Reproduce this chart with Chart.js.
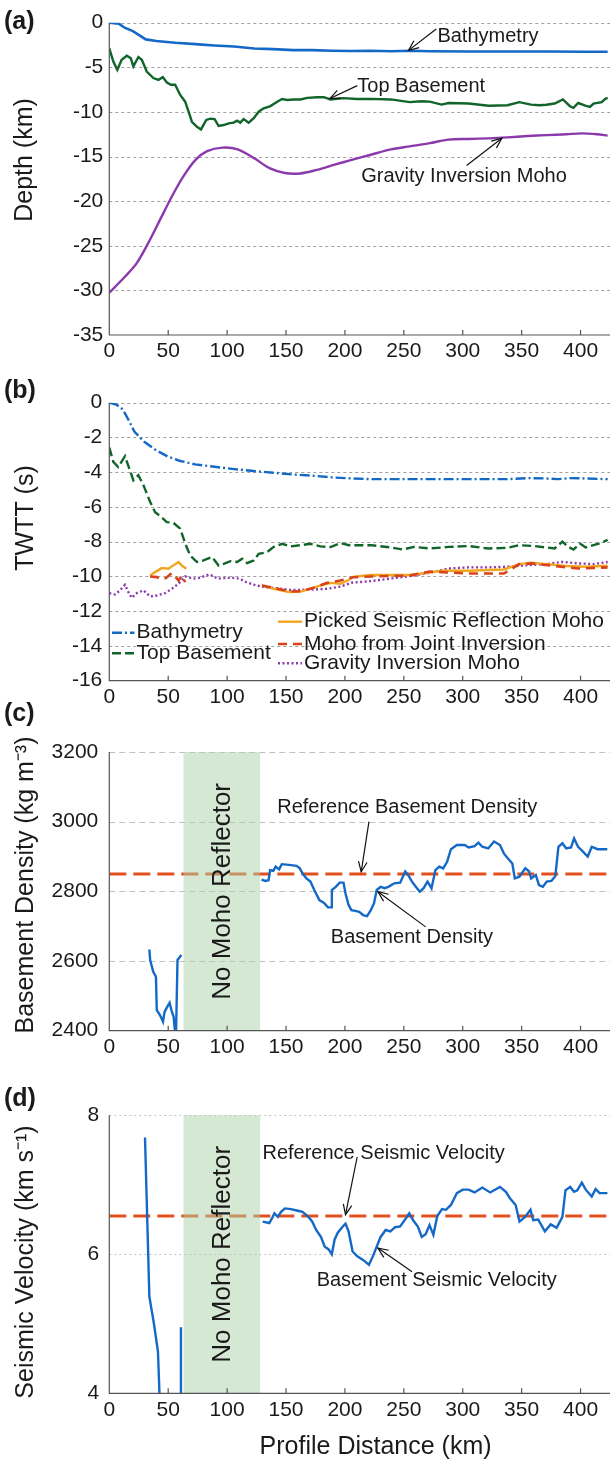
<!DOCTYPE html>
<html>
<head>
<meta charset="utf-8">
<script src="https://cdn.jsdelivr.net/npm/chart.js@4.4.0/dist/chart.umd.min.js"></script>
<style>
  html, body { margin: 0; padding: 0; background: #fff; }
  #wrap { position: relative; width: 611px; height: 1460px; }
  canvas { position: absolute; left: 0; }
</style>
</head>
<body>
<div id="wrap">
  <canvas id="chartA" width="611" height="365" style="top:0px"></canvas>
  <canvas id="chartB" width="611" height="347" style="top:365px"></canvas>
  <canvas id="chartC" width="611" height="367" style="top:695px"></canvas>
  <canvas id="chartD" width="611" height="385" style="top:1075px"></canvas>
</div>
<script>
// ---- data (profile distance in km) ----
const distMax = 425;
const noMoho = [63, 128];          // no Moho reflector zone (km)
const refDensity = 2850;           // reference basement density
const refVelocity = 6.55;          // reference seismic velocity

// (a) depth (km)
const bathyKmA = [0, 8, 13, 20, 31, 40, 56, 73, 89, 106, 123, 139, 156, 172, 189, 205, 222, 239, 255, 272, 305, 338, 371, 404, 423];
const bathyDepthA = [0, -0.1, -0.56, -0.94, -1.87, -2.06, -2.25, -2.4, -2.55, -2.66, -2.9, -2.96, -3.07, -3.07, -3.15, -3.18, -3.15, -3.2, -3.15, -3.2, -3.22, -3.22, -3.22, -3.26, -3.26];

const baseKmA = [0, 3.4, 6.8, 10.5, 14.8, 18.2, 20.4, 24.7, 27.6, 31.8, 37.4, 41.7, 45.4, 48.9, 52.3, 55.9, 60.2, 64.4, 67.3, 70.1, 74.4, 77.8, 82.3, 85.7, 89.4, 92.8, 97, 101.3, 105.5, 108.4, 111.2, 114, 118.3, 122.6, 126.8, 131, 136.8, 142.5, 146.7, 151, 156.6, 162.3, 168, 176.5, 182.1, 187.8, 199, 210, 222, 239, 255, 265, 272, 282, 288, 305, 322, 338, 348, 358, 365, 371, 378, 385, 391, 394, 398, 404, 408, 411, 418, 421, 423];
const baseDepthA = [-2.87, -4.35, -5.28, -4.15, -3.7, -3.97, -4.9, -3.85, -4.15, -5.47, -6.2, -6.4, -6.1, -6.7, -6.96, -6.96, -8.1, -8.85, -9.97, -11.1, -11.66, -11.96, -10.9, -10.76, -10.8, -11.58, -11.47, -11.28, -11.2, -10.98, -11.2, -10.8, -11.2, -10.7, -9.97, -9.6, -9.34, -8.85, -8.55, -8.66, -8.6, -8.6, -8.43, -8.35, -8.35, -8.6, -8.45, -8.55, -8.54, -8.6, -8.9, -8.8, -8.84, -9.18, -9.0, -9.06, -9.3, -9.25, -8.9, -9.18, -9.25, -9.2, -9.06, -8.6, -9.36, -9.55, -9.0, -9.3, -9.44, -9.06, -8.9, -8.54, -8.43];

const mohoKmA = [0, 13, 23, 33, 43, 53, 63, 73, 83, 96, 109, 123, 136, 149, 162, 176, 189, 205, 222, 239, 255, 272, 288, 305, 322, 338, 355, 371, 388, 401, 414, 423];
const mohoDepthA = [-30.26, -28.5, -27, -24.7, -22.1, -19.5, -17.2, -15.4, -14.4, -14.0, -14.2, -15.2, -16.3, -16.85, -16.9, -16.5, -16.0, -15.4, -14.8, -14.2, -13.86, -13.5, -13.1, -13.03, -12.96, -12.85, -12.7, -12.6, -12.5, -12.4, -12.5, -12.66];

// (b) two-way travel time (s)
const bathyKmB = [0, 6.5, 11.4, 16.4, 21.4, 29.7, 39.6, 49.6, 59.5, 72.8, 89.4, 106, 122.5, 139, 155.7, 172.3, 189, 205.5, 222, 238.7, 271.9, 305, 338, 354.7, 371, 381, 391, 404.4, 423];
const bathyTwttB = [0, -0.13, -0.38, -1.0, -1.67, -2.25, -2.73, -3.1, -3.34, -3.55, -3.69, -3.82, -3.93, -4.03, -4.13, -4.2, -4.3, -4.36, -4.4, -4.4, -4.4, -4.4, -4.4, -4.34, -4.36, -4.4, -4.34, -4.36, -4.4];

const baseKmB = [0, 3.4, 7.6, 13.3, 17, 20.4, 24.7, 29, 34.6, 38.9, 44.5, 48.8, 54.5, 60.2, 64.4, 68.7, 74.4, 80, 87.2, 92.8, 97.1, 102.8, 108.5, 112.7, 117, 122.6, 126.8, 133.9, 139.6, 146.7, 153.8, 162.3, 170.8, 179.3, 187.8, 196.3, 203.4, 222, 239, 249, 258.6, 272, 288, 305, 321.6, 338, 348, 361, 378, 384.6, 389.6, 394, 399.5, 404.4, 411, 417.8, 423];
const baseTwttB = [-2.58, -3.4, -3.7, -3.08, -3.79, -4.46, -4.17, -4.75, -5.7, -6.3, -6.6, -6.87, -6.92, -7.25, -8.1, -8.8, -9.17, -9.08, -8.88, -9.37, -9.27, -9.12, -9.17, -8.98, -9.23, -9.08, -8.7, -8.6, -8.3, -8.12, -8.27, -8.2, -8.12, -8.27, -8.31, -8.08, -8.2, -8.2, -8.33, -8.45, -8.3, -8.39, -8.3, -8.25, -8.39, -8.35, -8.2, -8.25, -8.39, -8.0, -8.3, -8.45, -8.1, -8.33, -8.2, -8.06, -7.9];

// null = gap in the pick
const pickedKmB = [34.6, 38.9, 44.5, 50.2, 53.1, 58.7, 61.6, 65.3, 97, 129.6, 139.6, 146.7, 152.4, 162.3, 170.8, 179.3, 187.8, 196.3, 203.4, 207, 222, 238.7, 255, 272, 282, 305, 322, 335, 348, 358, 371, 388, 404, 423];
const pickedTwttB = [-9.94, -9.75, -9.52, -9.56, -9.42, -9.17, -9.37, -9.56, null, -10.52, -10.71, -10.81, -10.9, -10.87, -10.71, -10.52, -10.37, -10.42, -10.19, -10.02, -9.92, -9.92, -9.92, -9.77, -9.67, -9.67, -9.63, -9.6, -9.29, -9.21, -9.29, -9.4, -9.44, -9.38];

const jointKmB = [34.6, 40.3, 44.5, 48, 53.1, 58.7, 61.6, 64.4, 97, 129.6, 139.6, 153.8, 162.3, 173.6, 184.9, 196.3, 207, 222, 255, 272, 282, 305, 335, 348, 358, 378, 398, 423];
const jointTwttB = [-10.0, -10.04, -10.17, -10.1, -9.8, -10.23, -9.94, -10.33, null, -10.52, -10.65, -10.87, -10.85, -10.65, -10.37, -10.23, -10.05, -10.0, -9.95, -9.72, -9.75, -9.83, -9.83, -9.29, -9.25, -9.4, -9.54, -9.48];

const mohoKmB = [0, 4.8, 9.1, 13.3, 16.2, 19, 23.3, 29, 34.6, 40.3, 47.4, 53.1, 58.7, 64.4, 71, 76.6, 85.1, 92.2, 99.3, 105, 110.7, 116.3, 124.8, 133.3, 144.7, 153.2, 162, 173.6, 185, 196.3, 205.5, 222, 238.7, 255, 272, 288, 305, 322, 338, 355, 371, 384.6, 398, 411, 423];
const mohoTwttB = [-10.96, -11.04, -10.8, -10.48, -10.9, -11.23, -10.96, -10.8, -11.15, -11.1, -10.96, -10.71, -10.42, -10.0, -10.13, -10.08, -9.88, -10.13, -10.08, -10.08, -10.13, -10.33, -10.52, -10.62, -10.71, -10.77, -10.77, -10.75, -10.71, -10.58, -10.36, -10.27, -10.12, -9.98, -9.79, -9.54, -9.48, -9.48, -9.44, -9.35, -9.29, -9.16, -9.25, -9.29, -9.17];

// (c) basement density (kg m-3)
const densKm = [34, 34.7, 37.3, 39.6, 40.3, 43, 45.6, 46.9, 49.6, 51.2, 52.9, 54.6, 56.5, 57.9, 61.2, 97,
  129.2, 132.5, 135.2, 136.5, 139.2, 141.2, 144.1, 146.4, 152.4, 159, 161.7, 164, 167.3, 170.7, 174, 178.3, 182.3, 185.6, 188.3, 188.9, 192.2, 195.5, 198.8, 200.5, 203.1, 205.5, 208.8, 212.1, 215.4, 218.8, 222, 224.7, 227, 230.3, 233.6, 236.9, 241.9, 246.9, 251.2, 253.6, 256.9, 260.2, 263.5, 266.8, 270.1, 273.5, 276.8, 280.1, 283.4, 286.7, 290, 295, 301.6, 305, 310, 313.3, 316.6, 321.6, 326.6, 331.6, 334.9, 338.2, 342.1, 344.2, 348.1, 353.1, 356.4, 358.1, 362, 364.7, 368, 371.3, 375.3, 378.6, 381.2, 384.6, 387.9, 391.9, 394.5, 397.9, 401.2, 406.1, 409.5, 414.4, 422.7];
const densVal = [2633, 2603, 2569, 2555, 2459, 2445, 2426, 2454, 2471, 2480, 2457, 2440, 2370, 2603, 2617, null,
  2834, 2830, 2832, 2861, 2859, 2871, 2863, 2878, 2876, 2873, 2866, 2852, 2837, 2828, 2804, 2775, 2767, 2754, 2754, 2804, 2813, 2825, 2825, 2794, 2761, 2746, 2744, 2741, 2732, 2729, 2746, 2766, 2804, 2813, 2809, 2813, 2823, 2825, 2857, 2847, 2828, 2813, 2799, 2809, 2828, 2809, 2861, 2871, 2866, 2885, 2921, 2933, 2933, 2926, 2930, 2940, 2928, 2923, 2943, 2933, 2909, 2895, 2880, 2837, 2842, 2866, 2857, 2837, 2847, 2818, 2813, 2828, 2830, 2844, 2928, 2938, 2923, 2926, 2952, 2928, 2917, 2900, 2928, 2921, 2921];

// (d) basement seismic velocity (km s-1)
const velKm = [30.3, 34, 37.9, 41.3, 42.8, 51, 60.2, 60.8, 97,
  130.2, 135.8, 138.2, 140.1, 143.1, 145.8, 149.1, 154.1, 159.1, 164, 169, 172.3, 175.6, 179.6, 182.9, 186.2, 188.9, 191.2, 193.9, 198.2, 200.5, 203.1, 206.5, 210.5, 215.4, 220.4, 223.7, 227, 230.3, 234.6, 238.6, 242.6, 246.9, 251.9, 254.6, 257.9, 261.9, 265.2, 268.5, 271.8, 275.1, 278.4, 282.4, 285.7, 290, 295, 300, 305, 310, 316.6, 323.3, 331.6, 336.6, 339.9, 344.9, 348.2, 353.1, 357.5, 359.8, 364.1, 369.7, 374.7, 379.7, 384.6, 387.2, 391.2, 394.5, 397.2, 401.1, 404.4, 409.5, 412.8, 416.1, 422.8];
const velVal = [7.68, 5.39, 5.0, 4.6, 3.9, null, 3.5, 4.95, null,
  6.47, 6.45, 6.52, 6.59, 6.54, 6.61, 6.66, 6.65, 6.63, 6.61, 6.54, 6.47, 6.35, 6.25, 6.11, 6.07, 6.0, 6.21, 6.31, 6.4, 6.44, 6.33, 6.04, 5.97, 5.92, 5.85, 5.97, 6.11, 6.25, 6.35, 6.33, 6.39, 6.4, 6.52, 6.59, 6.49, 6.4, 6.25, 6.29, 6.42, 6.28, 6.55, 6.65, 6.64, 6.71, 6.88, 6.93, 6.93, 6.89, 6.96, 6.89, 6.97, 6.9, 6.81, 6.71, 6.47, 6.54, 6.64, 6.49, 6.5, 6.33, 6.43, 6.38, 6.54, 6.92, 6.97, 6.9, 6.92, 7.03, 6.93, 6.83, 6.94, 6.88, 6.88];

// ---- styling helpers ----
const FONT = "'Liberation Sans', Arial, sans-serif";
const INK = '#1a1a1a';
const BLUE = '#1469c6';
const GREEN = '#12652a';
const PURPLE = '#8b3aac';
const YELLOW = '#f2a51e';
const RED = '#d9431c';
const REF = '#e2501f';
const TICK_SIZE = 21;

function pts(xs, ys) {
  return xs.map((x, i) => ({ x: x, y: ys[i] }));
}

function drawArrow(ctx, x1, y1, x2, y2) {
  ctx.beginPath();
  ctx.moveTo(x1, y1);
  ctx.lineTo(x2, y2);
  ctx.stroke();
  const ang = Math.atan2(y2 - y1, x2 - x1);
  const L = 11, w = 0.4;
  ctx.beginPath();
  ctx.moveTo(x2 - L * Math.cos(ang - w), y2 - L * Math.sin(ang - w));
  ctx.lineTo(x2, y2);
  ctx.lineTo(x2 - L * Math.cos(ang + w), y2 - L * Math.sin(ang + w));
  ctx.stroke();
}

// grid, axes, band, notes, legend and titles
const decorPlugin = {
  id: 'decor',
  beforeDatasetsDraw(chart, args, o) {
    const { ctx, chartArea: a, scales: { y } } = chart;
    ctx.save();
    ctx.strokeStyle = o.gridColor;
    ctx.lineWidth = 1;
    ctx.setLineDash(o.gridDash);
    y.ticks.forEach(t => {
      const py = Math.round(y.getPixelForValue(t.value)) + 0.5;
      if (Math.abs(py - a.bottom) < 2) return;
      ctx.beginPath();
      ctx.moveTo(a.left, py);
      ctx.lineTo(a.right, py);
      ctx.stroke();
    });
    ctx.restore();
  },
  afterDatasetsDraw(chart, args, o) {
    const { ctx, chartArea: a, scales: { x, y } } = chart;
    ctx.save();

    // no-reflector band
    if (o.band) {
      const bx1 = x.getPixelForValue(noMoho[0]);
      const bx2 = x.getPixelForValue(noMoho[1]);
      ctx.fillStyle = 'rgba(171, 209, 169, 0.5)';
      ctx.fillRect(bx1, a.top, bx2 - bx1, a.bottom - a.top);
      ctx.save();
      ctx.translate((bx1 + bx2) / 2 + 1, (a.top + a.bottom) / 2);
      ctx.rotate(-Math.PI / 2);
      ctx.fillStyle = INK;
      ctx.font = '26px ' + FONT;
      ctx.textAlign = 'center';
      ctx.textBaseline = 'middle';
      ctx.fillText('No Moho Reflector', 0, 0);
      ctx.restore();
    }

    // axes
    ctx.strokeStyle = '#555';
    ctx.lineWidth = 1.2;
    ctx.setLineDash([]);
    ctx.beginPath();
    ctx.moveTo(a.left, a.top);
    ctx.lineTo(a.left, a.bottom);
    ctx.lineTo(a.right, a.bottom);
    ctx.stroke();
    x.ticks.forEach(t => {
      const px = x.getPixelForValue(t.value);
      if (px - a.left < 2) return;
      ctx.beginPath();
      ctx.moveTo(px, a.bottom);
      ctx.lineTo(px, a.bottom - 5);
      ctx.stroke();
    });

    // annotations with arrows
    ctx.fillStyle = INK;
    ctx.strokeStyle = '#111';
    ctx.lineWidth = 1.2;
    ctx.font = '20px ' + FONT;
    ctx.textAlign = 'left';
    ctx.textBaseline = 'middle';
    (o.notes || []).forEach(n => {
      ctx.fillText(n.text, x.getPixelForValue(n.at[0]), y.getPixelForValue(n.at[1]));
      drawArrow(ctx,
        x.getPixelForValue(n.from[0]), y.getPixelForValue(n.from[1]),
        x.getPixelForValue(n.to[0]), y.getPixelForValue(n.to[1]));
    });

    // legend built from dataset styles
    ctx.font = '21px ' + FONT;
    (o.legend || []).forEach(item => {
      const ds = chart.data.datasets[item.ds];
      ctx.strokeStyle = ds.borderColor;
      ctx.lineWidth = ds.borderWidth || 2.4;
      ctx.setLineDash(ds.borderDash || []);
      ctx.beginPath();
      ctx.moveTo(item.x1, item.y);
      ctx.lineTo(item.x2, item.y);
      ctx.stroke();
      ctx.setLineDash([]);
      ctx.fillStyle = INK;
      ctx.fillText(ds.label, item.x2 + 2, item.y);
    });

    // axis titles and panel letter
    ctx.fillStyle = INK;
    ctx.font = '25px ' + FONT;
    ctx.textAlign = 'center';
    ctx.save();
    ctx.translate(o.yTitle.x, o.yTitle.y);
    ctx.rotate(-Math.PI / 2);
    ctx.fillText(o.yTitle.text, 0, 0);
    ctx.restore();
    if (o.xTitle) ctx.fillText(o.xTitle.text, o.xTitle.x, o.xTitle.y);
    ctx.font = 'bold 25px ' + FONT;
    ctx.textAlign = 'left';
    ctx.fillText(o.letter, 4, o.letterY);

    ctx.restore();
  }
};

function makeChart(id, datasets, cfg) {
  return new Chart(document.getElementById(id), {
    type: 'line',
    data: { datasets: datasets },
    options: {
      responsive: false,
      animation: false,
      devicePixelRatio: 1,
      layout: { padding: { top: cfg.padTop, right: 1, left: 0, bottom: 0 } },
      elements: { point: { radius: 0 }, line: { borderWidth: 2.4, tension: 0, borderCapStyle: 'butt' } },
      plugins: { legend: { display: false }, tooltip: { enabled: false }, decor: cfg.decor },
      scales: {
        x: {
          type: 'linear', min: 0, max: distMax,
          grid: { display: false, drawTicks: false }, border: { display: false },
          ticks: { stepSize: 50, includeBounds: false, padding: cfg.xPad, color: INK, maxRotation: 0, autoSkip: false,
                   font: { family: FONT, size: TICK_SIZE }, callback: v => String(v) },
          afterFit: s => { s.height = cfg.xHeight; }
        },
        y: {
          type: 'linear', min: cfg.yMin, max: cfg.yMax,
          grid: { display: false, drawTicks: false }, border: { display: false },
          ticks: { stepSize: cfg.yStep, padding: cfg.yPad, color: INK,
                   font: { family: FONT, size: TICK_SIZE }, callback: v => String(v) },
          afterFit: s => { s.width = 109.3; }
        }
      }
    },
    plugins: [decorPlugin]
  });
}

// (a) depth
makeChart('chartA', [
  { label: 'Bathymetry', data: pts(bathyKmA, bathyDepthA), borderColor: BLUE, borderWidth: 2.6 },
  { label: 'Top Basement', data: pts(baseKmA, baseDepthA), borderColor: GREEN, borderWidth: 2.4 },
  { label: 'Gravity Inversion Moho', data: pts(mohoKmA, mohoDepthA), borderColor: PURPLE, borderWidth: 2.4, tension: 0.3 }
], {
  padTop: 22.7, xHeight: 30, xPad: 4, yMin: -35, yMax: 0, yStep: 5, yPad: 6,
  decor: {
    gridColor: '#a0a0a0', gridDash: [3, 3],
    yTitle: { text: 'Depth (km)', x: 25, y: 160 },
    letter: '(a)', letterY: 22,
    notes: [
      { text: 'Bathymetry', at: [278.5, -1.5], from: [277.5, -0.7], to: [254, -3.1] },
      { text: 'Top Basement', at: [210.5, -7.1], from: [210.5, -7.05], to: [187.3, -8.5] },
      { text: 'Gravity Inversion Moho', at: [213.8, -17.2], from: [303.3, -16.0], to: [333.2, -12.95] }
    ]
  }
});

// (b) two-way travel time
makeChart('chartB', [
  { label: 'Bathymetry', data: pts(bathyKmB, bathyTwttB), borderColor: BLUE, borderWidth: 2.4, borderDash: [10, 3, 2, 3] },
  { label: 'Top Basement', data: pts(baseKmB, baseTwttB), borderColor: GREEN, borderWidth: 2.4, borderDash: [9, 4] },
  { label: 'Moho from Joint Inversion', data: pts(jointKmB, jointTwttB), borderColor: RED, borderWidth: 2.6, borderDash: [9, 6] },
  { label: 'Picked Seismic Reflection Moho', data: pts(pickedKmB, pickedTwttB), borderColor: YELLOW, borderWidth: 2.4 },
  { label: 'Gravity Inversion Moho', data: pts(mohoKmB, mohoTwttB), borderColor: PURPLE, borderWidth: 2.4, borderDash: [2, 2.5] }
], {
  padTop: 37.7, xHeight: 31.3, xPad: 4, yMin: -16, yMax: 0, yStep: 2, yPad: 7,
  decor: {
    gridColor: '#a0a0a0', gridDash: [3, 3],
    yTitle: { text: 'TWTT (s)', x: 26, y: 153 },
    letter: '(b)', letterY: 26,
    legend: [
      { ds: 0, x1: 112, x2: 134.5, y: 267.7 },
      { ds: 1, x1: 112, x2: 134.5, y: 288.3 },
      { ds: 3, x1: 278, x2: 302, y: 256.7 },
      { ds: 2, x1: 278, x2: 302, y: 279 },
      { ds: 4, x1: 278, x2: 302, y: 298.3 }
    ]
  }
});

// (c) basement density
makeChart('chartC', [
  { label: 'Basement Density', data: pts(densKm, densVal), borderColor: BLUE, borderWidth: 2.4 },
  { label: 'Reference Basement Density', data: pts([0, distMax], [refDensity, refDensity]), borderColor: REF, borderWidth: 3, borderDash: [17, 7] }
], {
  padTop: 57, xHeight: 31.3, xPad: 4, yMin: 2400, yMax: 3200, yStep: 200, yPad: 11,
  decor: {
    gridColor: '#c0c0c0', gridDash: [6, 4], band: true,
    yTitle: { text: 'Basement Density (kg m\u207B\u00B3)', x: 26, y: 190 },
    letter: '(c)', letterY: 19,
    notes: [
      { text: 'Reference Basement Density', at: [142.5, 3042], from: [220.4, 3000], to: [213.8, 2856] },
      { text: 'Basement Density', at: [188, 2669], from: [268.5, 2698], to: [228, 2799] }
    ]
  }
});

// (d) seismic velocity
makeChart('chartD', [
  { label: 'Basement Seismic Velocity', data: pts(velKm, velVal), borderColor: BLUE, borderWidth: 2.4 },
  { label: 'Reference Seismic Velocity', data: pts([0, distMax], [refVelocity, refVelocity]), borderColor: REF, borderWidth: 3, borderDash: [17, 7] }
], {
  padTop: 40.3, xHeight: 66.7, xPad: 4, yMin: 4, yMax: 8, yStep: 2, yPad: 10,
  decor: {
    gridColor: '#c4c4c4', gridDash: [2, 3], band: true,
    yTitle: { text: 'Seismic Velocity (km s\u207B\u00B9)', x: 26, y: 187 },
    xTitle: { text: 'Profile Distance (km)', x: 375.6, y: 371.7 },
    letter: '(d)', letterY: 24,
    notes: [
      { text: 'Reference Seismic Velocity', at: [130, 7.45], from: [210.4, 7.4], to: [200.5, 6.57] },
      { text: 'Basement Seismic Velocity', at: [176, 5.62], from: [257, 5.75], to: [228, 6.09] }
    ]
  }
});
</script>
</body>
</html>
